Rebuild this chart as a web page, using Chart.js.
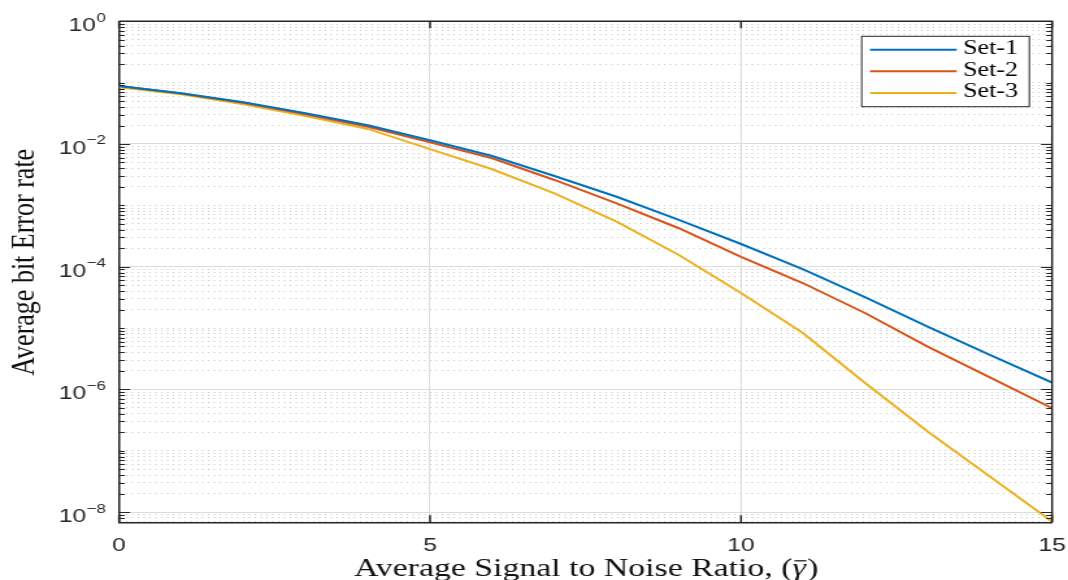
<!DOCTYPE html>
<html>
<head>
<meta charset="utf-8">
<title>Average bit Error rate</title>
<script src="https://cdn.jsdelivr.net/npm/chart.js@4.4.1/dist/chart.umd.min.js"></script>
<style>
  html, body { margin: 0; padding: 0; background: #fff; overflow: hidden; }
  /* the source figure is stretched sideways, so the chart is drawn narrow and widened */
  #wrap { position: relative; width: 822px; height: 580px; transform: scaleX(1.2993); transform-origin: 0 0; }
</style>
</head>
<body>
<div id="wrap"><canvas id="berChart"></canvas></div>
<script>
const snrDb = [0, 1, 2, 3, 4, 5, 6, 7, 8, 9, 10, 11, 12, 13, 14, 15];
const berSet1 = [0.0881, 0.0670, 0.0479, 0.0316, 0.0202, 0.0115, 0.00637, 0.00301, 0.00138, 5.77e-4, 2.34e-4, 9.07e-5, 3.17e-5, 1.05e-5, 3.64e-6, 1.29e-6];
const berSet2 = [0.0881, 0.0665, 0.0471, 0.0305, 0.0191, 0.01066, 0.00585, 0.00259, 0.00108, 4.23e-4, 1.44e-4, 5.36e-5, 1.74e-5, 4.97e-6, 1.57e-6, 4.92e-7];
const berSet3 = [0.0840, 0.0646, 0.0444, 0.0286, 0.0176, 0.00823, 0.00387, 0.00157, 5.41e-4, 1.55e-4, 3.72e-5, 8.2e-6, 1.26e-6, 2.05e-7, 3.78e-8, 6.97e-9];
const seriesNames = ["Set-1", "Set-2", "Set-3"];
const xTickValues = [0, 5, 10, 15];
const yLabelPowers = [0, -2, -4, -6, -8];
const yMin = 6.8e-9;
const yMax = 1;

// x title is split so the gamma can be set in italic with a bar over it
const xTitleParts = ["Average Signal to Noise Ratio, (", "\u03B3", ")"];
const yTitle = "Average bit Error rate";

const lineColors = ["#0072BD", "#D95319", "#EDB120"];
const axisColor = "#262626";

function isMajor(value) {
  const p = Math.round(Math.log10(value));
  return Math.abs(value / Math.pow(10, p) - 1) < 1e-6 && yLabelPowers.includes(p);
}

function logTickValues() {
  const vals = [];
  for (let p = -9; p <= 0; p++) {
    for (let m = 1; m <= 9; m++) {
      const v = m * Math.pow(10, p);
      if (v >= yMin * 0.9999 && v <= yMax * 1.0001) vals.push(v);
    }
  }
  return vals;
}

function toPoints(values) {
  return snrDb.map((x, i) => ({ x, y: values[i] }));
}

const frameAndText = {
  id: "frameAndText",
  afterDraw(chart) {
    const { ctx, chartArea: a, scales } = chart;
    const x = scales.x;
    const y = scales.y;
    ctx.save();

    // box on top and right
    ctx.strokeStyle = axisColor;
    ctx.lineWidth = 1.5;
    ctx.beginPath();
    ctx.moveTo(a.left, a.top);
    ctx.lineTo(a.right, a.top);
    ctx.lineTo(a.right, a.bottom);
    ctx.stroke();

    // inward tick marks
    ctx.lineWidth = 1;
    ctx.beginPath();
    y.ticks.forEach((t) => {
      const py = Math.round(y.getPixelForValue(t.value)) + 0.5;
      const len = isMajor(t.value) ? 8.5 : 4.5;
      ctx.moveTo(a.left, py);
      ctx.lineTo(a.left + len, py);
      ctx.moveTo(a.right, py);
      ctx.lineTo(a.right - len, py);
    });
    ctx.stroke();
    ctx.lineWidth = 1.5;
    ctx.beginPath();
    x.ticks.forEach((t) => {
      const px = x.getPixelForValue(t.value);
      ctx.moveTo(px, a.bottom);
      ctx.lineTo(px, a.bottom - 7);
      ctx.moveTo(px, a.top);
      ctx.lineTo(px, a.top + 7);
    });
    ctx.stroke();

    // y tick labels as 10 with a raised power
    ctx.fillStyle = axisColor;
    ctx.textBaseline = "alphabetic";
    ctx.textAlign = "right";
    const labelRight = a.left - 10;
    yLabelPowers.forEach((p) => {
      const py = y.getPixelForValue(Math.pow(10, p));
      const power = p < 0 ? "\u2212" + Math.abs(p) : String(p);
      ctx.font = "13px 'Liberation Sans'";
      const pw = ctx.measureText(power).width;
      ctx.fillText(power, labelRight, py + 0.5);
      ctx.font = "19px 'Liberation Sans'";
      ctx.fillText("10", labelRight - pw - 0.5, py + 10);
    });

    // x axis title
    ctx.fillStyle = "#111";
    ctx.textAlign = "left";
    const upright = "26px 'Liberation Serif'";
    const slanted = "italic 26px 'Liberation Serif'";
    ctx.font = upright;
    const w0 = ctx.measureText(xTitleParts[0]).width;
    const w2 = ctx.measureText(xTitleParts[2]).width;
    ctx.font = slanted;
    const w1 = ctx.measureText(xTitleParts[1]).width;
    let tx = (a.left + a.right) / 2 - (w0 + w1 + w2) / 2;
    const ty = a.bottom + 54;
    ctx.font = upright;
    ctx.fillText(xTitleParts[0], tx, ty);
    ctx.font = slanted;
    ctx.fillText(xTitleParts[1], tx + w0, ty);
    ctx.strokeStyle = "#111";
    ctx.lineWidth = 1.2;
    ctx.beginPath();
    ctx.moveTo(tx + w0 + 1.5, ty - 15.5);
    ctx.lineTo(tx + w0 + w1 + 0.5, ty - 15.5);
    ctx.stroke();
    ctx.font = upright;
    ctx.fillText(xTitleParts[2], tx + w0 + w1 + 1, ty);

    // y axis title
    ctx.save();
    ctx.translate(25.5, (a.top + a.bottom) / 2 - 9.5);
    ctx.rotate(-Math.PI / 2);
    ctx.textAlign = "center";
    ctx.font = "26px 'Liberation Serif'";
    ctx.fillText(yTitle, 0, 0);
    ctx.restore();

    // legend box in the upper right corner
    const boxW = 129;
    const boxH = 70.4;
    const boxL = a.right - 17.5 - boxW;
    const boxT = a.top + 15;
    ctx.fillStyle = "#fff";
    ctx.fillRect(boxL, boxT, boxW, boxH);
    ctx.strokeStyle = axisColor;
    ctx.lineWidth = 1;
    ctx.strokeRect(boxL, boxT, boxW, boxH);
    ctx.font = "20px 'Liberation Serif'";
    ctx.textAlign = "left";
    ctx.textBaseline = "middle";
    chart.data.datasets.forEach((ds, i) => {
      const rowY = boxT + 13.4 + i * 21.65;
      ctx.strokeStyle = ds.borderColor;
      ctx.lineWidth = 2;
      ctx.beginPath();
      ctx.moveTo(boxL + 6.4, rowY);
      ctx.lineTo(boxL + 73.1, rowY);
      ctx.stroke();
      ctx.fillStyle = "#000";
      ctx.fillText(ds.label, boxL + 78, rowY - 1);
    });

    ctx.restore();
  }
};

new Chart(document.getElementById("berChart"), {
  type: "line",
  data: {
    datasets: [berSet1, berSet2, berSet3].map((values, i) => ({
      label: seriesNames[i],
      data: toPoints(values),
      borderColor: lineColors[i],
      backgroundColor: lineColors[i],
      borderWidth: 2,
      pointRadius: 0,
      tension: 0,
      fill: false
    }))
  },
  options: {
    responsive: true,
    maintainAspectRatio: false,
    animation: false,
    devicePixelRatio: 1,
    layout: {
      padding: { top: 21.3, right: 12.3, bottom: 0, left: 0 }
    },
    plugins: {
      legend: { display: false },
      tooltip: { enabled: false }
    },
    scales: {
      x: {
        type: "linear",
        min: 0,
        max: 15,
        afterBuildTicks(scale) {
          scale.ticks = xTickValues.map((v) => ({ value: v }));
        },
        afterFit(scale) {
          scale.height = 57.7;
          scale.paddingLeft = 0;
          scale.paddingRight = 0;
        },
        ticks: {
          font: { family: "'Liberation Sans'", size: 19 },
          color: axisColor,
          padding: 12,
          maxRotation: 0,
          autoSkip: false
        },
        grid: { color: "#dcdcdc", lineWidth: 1, drawTicks: false },
        border: { color: axisColor, width: 1.5 }
      },
      y: {
        type: "logarithmic",
        min: yMin,
        max: yMax,
        afterBuildTicks(scale) {
          scale.ticks = logTickValues().map((v) => ({ value: v }));
        },
        afterFit(scale) {
          scale.width = 91.6;
          scale.paddingTop = 0;
          scale.paddingBottom = 0;
        },
        ticks: { display: false },
        grid: {
          color: (c) => (c.tick && isMajor(c.tick.value) ? "#dcdcdc" : "#c6c6c6"),
          lineWidth: 1,
          drawTicks: false
        },
        border: {
          color: axisColor,
          width: 1.5,
          dash: (c) => (c.tick && !isMajor(c.tick.value) ? [1, 3.5] : [])
        }
      }
    }
  },
  plugins: [frameAndText]
});
</script>
</body>
</html>
